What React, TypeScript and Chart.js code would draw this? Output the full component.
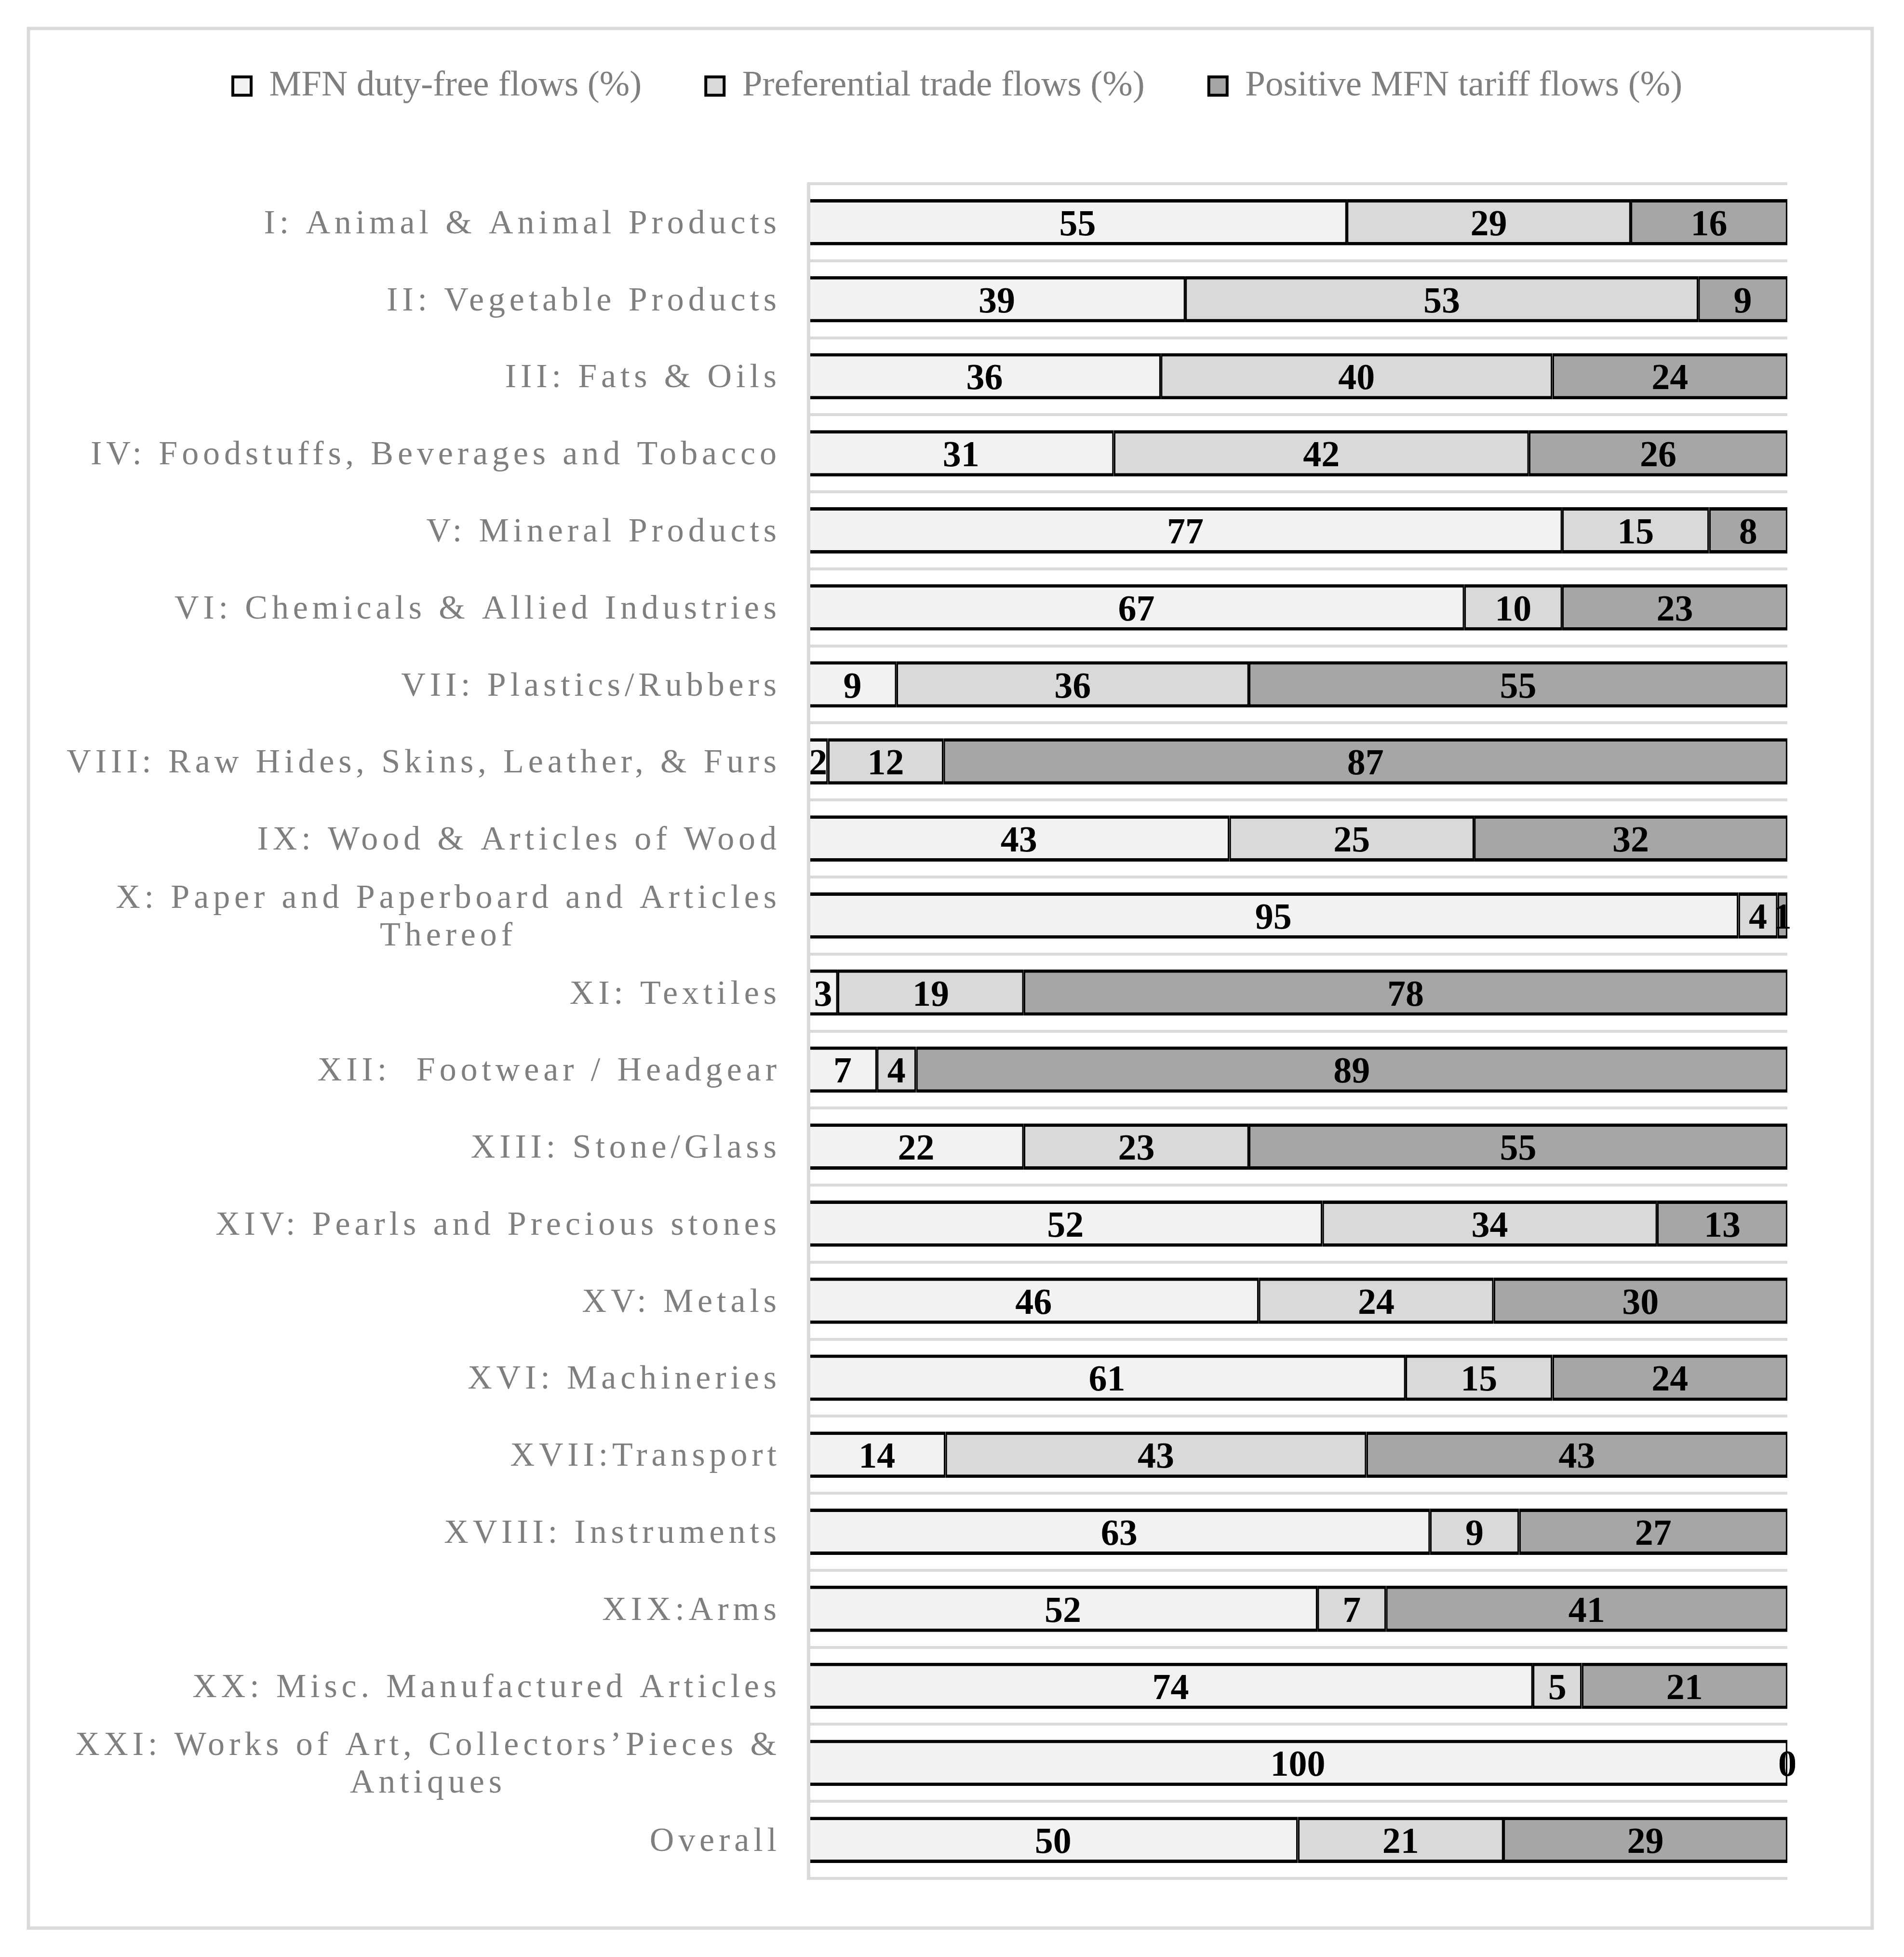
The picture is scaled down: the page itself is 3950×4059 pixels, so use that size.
import React, { useEffect, useRef } from "react";
import { Chart, registerables } from "chart.js";

Chart.register(...registerables);

// Category labels (top to bottom); multi-line labels are arrays of lines
const categories: string[][] = [
  ["I: Animal & Animal Products"],
  ["II: Vegetable Products"],
  ["III: Fats & Oils"],
  ["IV: Foodstuffs, Beverages and Tobacco"],
  ["V: Mineral Products"],
  ["VI: Chemicals & Allied Industries"],
  ["VII: Plastics/Rubbers"],
  ["VIII: Raw Hides, Skins, Leather, & Furs"],
  ["IX: Wood & Articles of Wood"],
  ["X: Paper and Paperboard and Articles", "Thereof"],
  ["XI: Textiles"],
  ["XII:  Footwear / Headgear"],
  ["XIII: Stone/Glass"],
  ["XIV: Pearls and Precious stones"],
  ["XV: Metals"],
  ["XVI: Machineries"],
  ["XVII:Transport"],
  ["XVIII: Instruments"],
  ["XIX:Arms"],
  ["XX: Misc. Manufactured Articles"],
  ["XXI: Works of Art, Collectors\u2019Pieces &", "Antiques"],
  ["Overall"],
];

const seriesNames = [
  "MFN duty-free flows (%)",
  "Preferential trade flows (%)",
  "Positive MFN tariff flows (%)",
];

// Segment shares (%)
const dutyFree = [55, 38.5, 36, 31.2, 77, 67, 9, 2, 43, 95, 3, 7, 22, 52.5, 46, 61, 14, 63.5, 52, 74, 100, 50];
const preferential = [29, 52.4, 40, 42.4, 15, 10, 36, 11.8, 25, 4, 19, 4, 23, 34.2, 24, 15, 43, 9.1, 7, 5, 0, 21];
const positiveMfn = [16, 9.1, 24, 26.4, 8, 23, 55, 86.2, 32, 1, 78, 89, 55, 13.3, 30, 24, 43, 27.4, 41, 21, 0, 29];

// Data label texts as printed on the bars
const dutyFreeLabels = [55, 39, 36, 31, 77, 67, 9, 2, 43, 95, 3, 7, 22, 52, 46, 61, 14, 63, 52, 74, 100, 50];
const preferentialLabels = [29, 53, 40, 42, 15, 10, 36, 12, 25, 4, 19, 4, 23, 34, 24, 15, 43, 9, 7, 5, 0, 21];
const positiveMfnLabels = [16, 9, 24, 26, 8, 23, 55, 87, 32, 1, 78, 89, 55, 13, 30, 24, 43, 27, 41, 21, 0, 29];

const seriesColors = ["#F2F2F2", "#D9D9D9", "#A6A6A6"];

const SERIF = '"Liberation Serif", "Times New Roman", serif';

export default function App() {
  const canvasRef = useRef<HTMLCanvasElement | null>(null);

  useEffect(() => {
    const canvas = canvasRef.current;
    if (!canvas) return;

    const labelSets = [dutyFreeLabels, preferentialLabels, positiveMfnLabels];

    const framePlugin = {
      id: "frame",
      beforeDraw(chart: any) {
        const ctx = chart.ctx;
        ctx.save();
        ctx.fillStyle = "#ffffff";
        ctx.fillRect(0, 0, chart.width, chart.height);
        ctx.strokeStyle = "#D9D9D9";
        ctx.lineWidth = 7;
        ctx.strokeRect(59, 59, 3825, 3940);
        ctx.restore();
      },
    };

    const dataLabelPlugin = {
      id: "dataLabels",
      afterDatasetsDraw(chart: any) {
        const ctx = chart.ctx;
        ctx.save();
        ctx.font = `bold 76px ${SERIF}`;
        ctx.fillStyle = "#000000";
        ctx.textAlign = "center";
        ctx.textBaseline = "alphabetic";
        chart.data.datasets.forEach((_ds: any, di: number) => {
          const meta = chart.getDatasetMeta(di);
          const labels = labelSets[di];
          meta.data.forEach((bar: any, i: number) => {
            const p = bar.getProps(["x", "base", "y"], true);
            ctx.fillText(String(labels[i]), (p.x + p.base) / 2, p.y + 27);
          });
        });
        ctx.restore();
      },
    };

    const categoryLabelPlugin = {
      id: "categoryLabels",
      afterDraw(chart: any) {
        const ctx = chart.ctx;
        const ys = chart.scales.y;
        const ls = 8.9;
        const lh = 78;
        const right = chart.chartArea.left - 66;
        ctx.save();
        ctx.font = `70px ${SERIF}`;
        ctx.fillStyle = "#7F7F7F";
        ctx.textAlign = "left";
        ctx.textBaseline = "alphabetic";
        categories.forEach((lines, i) => {
          const yc = ys.getPixelForValue(i);
          (ctx as any).letterSpacing = "0px";
          const widths = lines.map(
            (l) => ctx.measureText(l).width + ls * (Array.from(l).length - 1)
          );
          const blockW = Math.max(...widths);
          (ctx as any).letterSpacing = ls + "px";
          lines.forEach((l, k) => {
            const yy = yc + (k - (lines.length - 1) / 2) * lh + 23;
            ctx.fillText(l, right - blockW + (blockW - widths[k]) / 2, yy);
          });
        });
        (ctx as any).letterSpacing = "0px";
        ctx.restore();
      },
    };

    const chart = new Chart(canvas, {
      type: "bar",
      data: {
        labels: categories,
        datasets: [dutyFree, preferential, positiveMfn].map((vals, k) => ({
          label: seriesNames[k],
          data: vals,
          backgroundColor: seriesColors[k],
          borderColor: "#000000",
          borderWidth: { top: 7, bottom: 7, left: 3.5, right: 3.5 },
          borderSkipped: false,
          barPercentage: 0.6,
          categoryPercentage: 1.0,
        })),
      },
      options: {
        indexAxis: "y",
        responsive: false,
        animation: false,
        layout: { padding: { left: 350, right: 242, top: 8, bottom: 163 } },
        plugins: {
          tooltip: { enabled: false },
          legend: {
            display: true,
            position: "top",
            align: "start",
            labels: {
              color: "#7F7F7F",
              font: { family: SERIF, size: 75 },
              boxWidth: 38,
              boxHeight: 38,
              padding: 133,
              generateLabels: (c: any) =>
                (Chart.defaults.plugins.legend.labels as any)
                  .generateLabels(c)
                  .map((it: any) => ({ ...it, lineWidth: 6, strokeStyle: "#000000" })),
            },
          },
        },
        scales: {
          x: {
            type: "linear",
            stacked: true,
            min: 0,
            max: 100,
            position: "top",
            display: true,
            ticks: { display: false },
            grid: { display: false },
            border: { display: false },
            afterFit: (s: any) => {
              s.height = 155;
            },
          },
          y: {
            type: "category",
            stacked: true,
            offset: true,
            ticks: { display: false },
            grid: { color: "#D9D9D9", lineWidth: 6, drawTicks: false, offset: true },
            border: { display: true, color: "#D9D9D9", width: 7, z: 1 },
            afterFit: (s: any) => {
              s.width = 1327;
            },
          },
        },
      } as any,
      plugins: [framePlugin, dataLabelPlugin, categoryLabelPlugin],
    });

    return () => {
      chart.destroy();
    };
  }, []);

  return (
    <div
      style={{
        position: "absolute",
        left: 0,
        top: 0,
        width: 3950,
        height: 4059,
        background: "#ffffff",
      }}
    >
      <canvas ref={canvasRef} width={3950} height={4059} style={{ display: "block" }} />
    </div>
  );
}
